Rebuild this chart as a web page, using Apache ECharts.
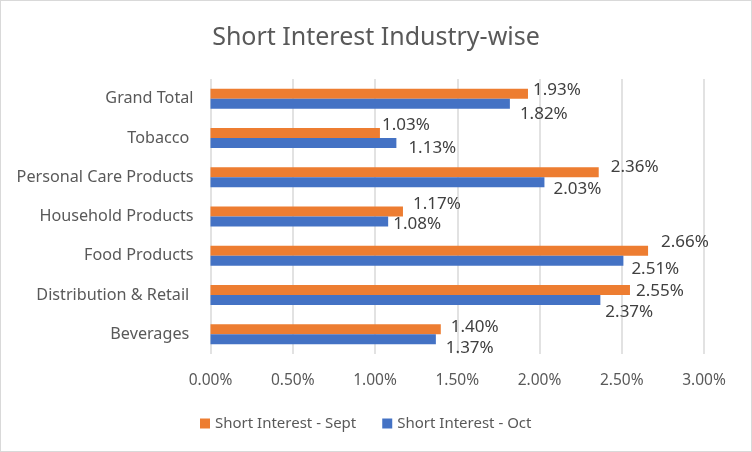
<!DOCTYPE html>
<html><head><meta charset="utf-8">
<script src="https://cdn.jsdelivr.net/npm/echarts@6/dist/echarts.min.js"></script>
<style>html,body{margin:0;padding:0;background:#fff}#c{width:752px;height:452px;box-sizing:border-box;border:1px solid #d9d9d9}</style>
</head><body><div id="c"></div>
<script>
const categories = ['Beverages ', 'Distribution & Retail ', 'Food Products', 'Household Products', 'Personal Care Products', 'Tobacco ', 'Grand Total'];
const sept = [1.40, 2.55, 2.66, 1.17, 2.36, 1.03, 1.93];
const oct = [1.37, 2.37, 2.51, 1.08, 2.03, 1.13, 1.82];
const ticks = [0, 0.5, 1, 1.5, 2, 2.5, 3];
// label placement tweaks (style, not data)
const septLabelOffsets = [[10,-2],[6,1],[13,-9],[10,-7],[12,-5],[2,-8],[5,-3]];
const octLabelOffsets = [[10,9],[5,12],[8,8],[5,3],[9,7],[12,5],[10,11]];

const FONT = 'Noto Sans';
const TXT = '#595959';
function mk(vals, offs) {
  return vals.map((v, i) => ({value: v, label: {offset: offs[i]}}));
}
const chart = echarts.init(document.getElementById('c'));
chart.setOption({
  animation: false,
  title: {text: 'Short Interest Industry-wise', left: 'center', top: 19,
    textStyle: {fontFamily: FONT, fontSize: 25, fontWeight: 'normal', color: TXT}},
  grid: {left: 209.5, right: 47, top: 78, bottom: 97},
  legend: {bottom: 15, left: 194, itemWidth: 10, itemHeight: 10, itemGap: 26,
    icon: 'rect', textStyle: {fontFamily: FONT, fontSize: 15, color: TXT},
    data: ['Short Interest - Sept', 'Short Interest - Oct']},
  xAxis: {type: 'value', min: ticks[0], max: ticks[ticks.length-1], interval: 0.5,
    axisLine: {show: false}, axisTick: {show: false},
    splitLine: {lineStyle: {color: '#d9d9d9', width: 1.5}},
    axisLabel: {fontFamily: FONT, fontSize: 15.5, color: TXT, margin: 19,
      formatter: v => v.toFixed(2) + '%'}},
  yAxis: {type: 'category', data: categories,
    axisLine: {show: false}, axisTick: {show: false},
    axisLabel: {fontFamily: FONT, fontSize: 16.2, color: TXT, margin: 17}},
  series: [
    {name: 'Short Interest - Sept', type: 'bar', data: mk(sept, septLabelOffsets),
     itemStyle: {color: '#ED7D31'}, barWidth: 10, barGap: '0%',
     label: {show: true, position: 'right', distance: 0, fontFamily: FONT, fontSize: 17, color: '#404040',
       formatter: p => p.value.toFixed(2) + '%'}},
    {name: 'Short Interest - Oct', type: 'bar', data: mk(oct, octLabelOffsets),
     itemStyle: {color: '#4472C4'}, barWidth: 10, barGap: '0%',
     label: {show: true, position: 'right', distance: 0, fontFamily: FONT, fontSize: 17, color: '#404040',
       formatter: p => p.value.toFixed(2) + '%'}}
  ]
});
</script></body></html>
